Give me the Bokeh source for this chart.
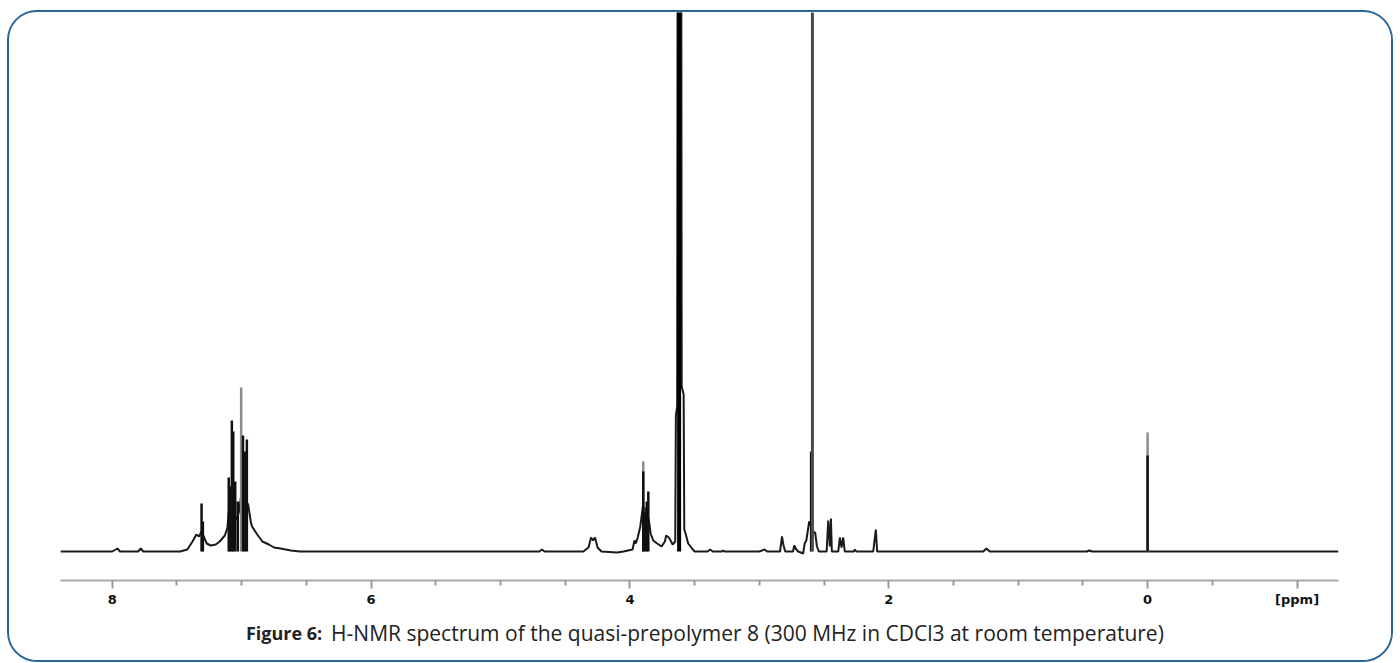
from bokeh.plotting import figure
from bokeh.models import Range1d, FixedTicker, LinearAxis
from bokeh.layouts import column
from bokeh.core.properties import value
from bokeh.embed import file_html
from bokeh.resources import INLINE

# ---------------- data (chemical shift in ppm, intensity in a.u.) ----------------
ENV_PPM = [8.40, 8.00, 7.96, 7.94, 7.80, 7.78, 7.76, 7.475, 7.42, 7.38, 7.35, 7.33, 7.31, 7.29,
           7.27, 7.24, 7.20, 7.17, 7.13, 7.11, 7.10, 7.08, 7.06, 7.04, 7.02, 7.00, 6.99, 6.97,
           6.95, 6.93, 6.92, 6.88, 6.84, 6.79, 6.75, 6.70, 6.62, 6.55,
           4.70, 4.68, 4.66, 4.36, 4.32, 4.30, 4.285, 4.27, 4.25, 4.22, 4.10, 4.05,
           3.98, 3.965, 3.955, 3.94, 3.92, 3.90, 3.88, 3.865, 3.85, 3.84, 3.82, 3.79, 3.755,
           3.73, 3.72, 3.70, 3.69, 3.67, 3.65, 3.645, 3.635, 3.625, 3.61, 3.60, 3.585, 3.58,
           3.57, 3.55, 3.52, 3.50, 3.40, 3.38, 3.36, 3.29, 3.28, 3.27,
           3.00, 2.96, 2.94, 2.84, 2.825, 2.815, 2.80, 2.74, 2.73, 2.72, 2.70, 2.68, 2.662,
           2.65, 2.637, 2.615, 2.58, 2.569, 2.555, 2.54,
           2.48, 2.468, 2.455, 2.447, 2.44, 2.39, 2.378, 2.365, 2.352, 2.34,
           2.27, 2.262, 2.25, 2.12, 2.10, 2.09,
           1.27, 1.245, 1.22, 0.47, 0.45, 0.43, -1.475]
ENV_INT = [0, 0, 3, 0, 0, 3, 0, 0, 2, 10, 17, 15, 20, 14,
           8, 6, 7, 10, 16, 24, 40, 35, 38, 32, 40, 60, 55, 50,
           47, 30, 25, 17, 10, 7, 4, 3, 1, 0,
           0, 2, 0, 0, 4, 14, 11, 14, 4, 0, -1, 0,
           2, 11, 8, 14, 25, 45, 42, 38, 28, 18, 11, 8, 5,
           10, 16, 14, 12, 7, 10, 136, 145, 1500, 1500, 165, 157, 22,
           18, 8, 3, 0, 0, 2, 0, 0, 1, 0,
           0, 2, 0, 0, 15, 7, 0, 0, 6, 3, 0, -1, -2,
           8, 11, 30, 19, 19, 5, 0,
           0, 31, 5, 33, 0, 0, 14, 4, 14, 0,
           0, 2, 0, 0, 22, 0,
           0, 3, 0, 0, 1, 0, 0]

# resolved lines drawn as sticks
SPIKE_PPM = [7.31, 7.30, 7.10, 7.09, 7.076, 7.065, 7.05, 7.03, 6.99, 6.975, 6.96,
             3.897, 3.885, 3.87, 3.858, 2.60, 0.0]
SPIKE_INT = [48, 30, 74, 65, 131, 120, 70, 50, 116, 100, 112,
             80, 40, 50, 60, 100, 96]
GREY_SPIKE_PPM = [7.004, 3.897, 0.0]
GREY_SPIKE_INT = [164, 90, 119]
MAIN_PEAK_PPM = [3.62, 2.59]
MAIN_PEAK_INT = [1500, 1200]

LABEL_TICKS = [8.0, 6.0, 4.0, 2.0, 0.0, -1.155]
LABEL_TEXTS = ["8", "6", "4", "2", "0", "[ppm]"]
MINOR_TICKS = [7.5, 7.0, 6.5, 5.5, 5.0, 4.5, 3.5, 3.0, 2.5, 1.5, 1.0, 0.5, -0.5]
CAPTION_BOLD = "Figure 6:"
CAPTION_TEXT = "H-NMR spectrum of the quasi-prepolymer 8 (300 MHz in CDCl3 at room temperature)"

# ---------------- spectrum figure ----------------
xr = Range1d(8.40, -1.475)
p = figure(width=1382, height=604, frame_width=1278, frame_height=568,
           min_border_left=51, min_border_right=53, min_border_top=0, min_border_bottom=36,
           x_range=xr, y_range=Range1d(-29, 539),
           x_axis_location=None, y_axis_location=None,
           output_backend="svg", toolbar_location=None, tools="")
p.grid.visible = False
p.outline_line_color = None
p.background_fill_color = "white"
p.border_fill_color = "white"

p.line(ENV_PPM, ENV_INT, line_color="#1a1a1a", line_width=2)
p.segment(x0=GREY_SPIKE_PPM, y0=[0] * len(GREY_SPIKE_PPM), x1=GREY_SPIKE_PPM, y1=GREY_SPIKE_INT,
          line_color="#8c8c8c", line_width=2.5)
p.segment(x0=SPIKE_PPM, y0=[0] * len(SPIKE_PPM), x1=SPIKE_PPM, y1=SPIKE_INT,
          line_color="#111111", line_width=2.5)
p.segment(x0=MAIN_PEAK_PPM[:1], y0=[0], x1=MAIN_PEAK_PPM[:1], y1=MAIN_PEAK_INT[:1],
          line_color="#000000", line_width=4)
p.segment(x0=MAIN_PEAK_PPM[1:], y0=[0], x1=MAIN_PEAK_PPM[1:], y1=MAIN_PEAK_INT[1:],
          line_color="#4a4a4a", line_width=3)

ax = LinearAxis(ticker=FixedTicker(ticks=LABEL_TICKS, minor_ticks=MINOR_TICKS))
ax.major_label_overrides = {t: lab for t, lab in zip(LABEL_TICKS, LABEL_TEXTS)}
ax.axis_line_color = "#aaaaaa"
ax.axis_line_width = 2
ax.major_tick_line_color = "#9a9a9a"
ax.major_tick_line_width = 2
ax.major_tick_out = 8
ax.major_tick_in = 0
ax.minor_tick_line_color = "#9a9a9a"
ax.minor_tick_line_width = 2
ax.minor_tick_out = 5
ax.minor_tick_in = 0
ax.major_label_standoff = 3
ax.major_label_text_font = "DejaVu Sans"
ax.major_label_text_font_style = "bold"
ax.major_label_text_font_size = "13px"
ax.major_label_text_color = "#111111"
p.add_layout(ax, "below")

# ---------------- caption figure ----------------
c = figure(width=1382, height=44, frame_width=1278, frame_height=44,
           min_border_left=51, min_border_right=53, min_border_top=0, min_border_bottom=0,
           x_range=xr, y_range=Range1d(0, 44),
           x_axis_location=None, y_axis_location=None,
           output_backend="svg", toolbar_location=None, tools="")
c.grid.visible = False
c.outline_line_color = None
c.background_fill_color = "white"
c.border_fill_color = "white"
c.text(x=[6.378], y=[28], text=[CAPTION_BOLD], text_align="right", text_baseline="middle",
       text_font=value("Open Sans"), text_font_style="bold", text_font_size="18px",
       text_color="#222222")
c.text(x=[6.309], y=[28], text=[CAPTION_TEXT], text_align="left", text_baseline="middle",
       text_font=value("Open Sans"), text_font_style="normal", text_font_size="21px",
       text_color="#222222")

layout = column(p, c, spacing=0,
                styles={"border": "2px solid #2b6698", "border-radius": "30px",
                        "margin-left": "7px", "margin-top": "10px",
                        "background": "white", "overflow": "hidden"})

open("out.html", "w").write(file_html(layout, INLINE))
